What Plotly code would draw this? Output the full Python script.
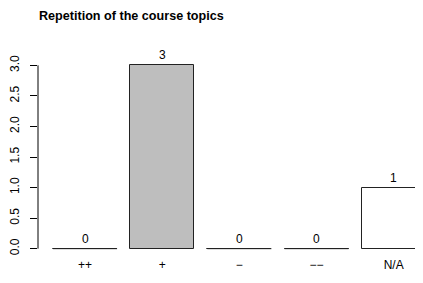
import plotly.graph_objects as go

categories = ["++", "+", "\u2212", "\u2212\u2212", "N/A"]
counts = [0, 3, 0, 0, 1]
bar_colors = ["white", "#BEBEBE", "white", "white", "white"]
ytick_vals = [0.0, 0.5, 1.0, 1.5, 2.0, 2.5, 3.0]
ytick_text = ["0.0", "0.5", "1.0", "1.5", "2.0", "2.5", "3.0"]
title_text = "Repetition of the course topics"

FONT = "Liberation Sans, Arial, sans-serif"
xpos = list(range(len(categories)))
bw = 0.83

# the page's default 8px body margin is compensated in the sizes/margins below
W, H = 415, 267

fig = go.Figure()
fig.add_trace(go.Bar(
    x=xpos, y=counts, width=bw,
    marker=dict(color=bar_colors, line=dict(color="#222222", width=1)),
    showlegend=False, hoverinfo="skip",
))
# zero-height bars drawn as baseline segments (as R's barplot does)
for xi, v in zip(xpos, counts):
    if v == 0:
        fig.add_trace(go.Scatter(x=[xi - bw / 2, xi + bw / 2], y=[v, v], mode="lines",
                                 line=dict(color="#222222", width=1), showlegend=False,
                                 hoverinfo="skip"))
for xi, v in zip(xpos, counts):
    fig.add_annotation(x=xi, y=v, text=str(v), showarrow=False, yshift=10,
                       font=dict(family=FONT, size=12, color="black"))

# R-style y axis line from 0 to max tick
fig.add_shape(type="line", xref="paper", yref="y", x0=0, x1=0, y0=0, y1=3,
              line=dict(color="black", width=1))

fig.update_layout(
    width=W, height=H,
    margin=dict(l=30, r=0, t=49.6, b=H - 248.4),
    paper_bgcolor="white", plot_bgcolor="white",
    font=dict(family=FONT, size=12, color="black"),
    title=dict(text="<b>" + title_text + "</b>", x=31 / W, xanchor="left",
               y=1 - 8 / H, yanchor="middle", font=dict(size=12.6)),
    bargap=0,
)
fig.update_xaxes(range=[-0.61, 4.38], tickvals=xpos, ticktext=categories,
                 showgrid=False, zeroline=False, showline=False, ticks="",
                 tickfont=dict(size=12), ticklabelstandoff=0, automargin=False)
fig.update_yaxes(range=[-0.12, 3.12], tickvals=ytick_vals, ticktext=ytick_text,
                 showgrid=False, zeroline=False, showline=False,
                 ticks="outside", ticklen=7, tickcolor="black", tickwidth=1,
                 tickangle=-90, tickfont=dict(size=12), ticklabelstandoff=6,
                 automargin=False)

fig.write_html("out.html")
